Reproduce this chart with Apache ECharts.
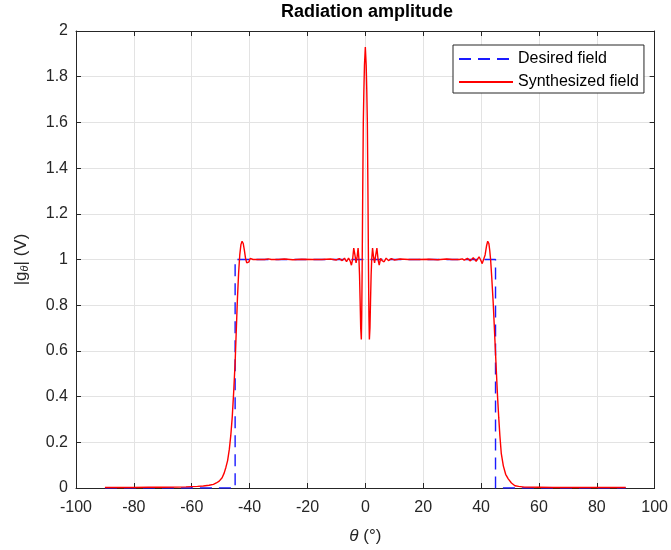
<!DOCTYPE html>
<html>
<head>
<meta charset="utf-8">
<script src="https://cdn.jsdelivr.net/npm/echarts@6/dist/echarts.min.js"></script>
<style>html,body{margin:0;padding:0;background:#fff;}#c{width:671px;height:550px;}</style>
</head>
<body>
<div id="c"></div>
<script>
// ---- data ----
const xTicks = [-100, -80, -60, -40, -20, 0, 20, 40, 60, 80, 100];
const yTicks = [0, 0.2, 0.4, 0.6, 0.8, 1, 1.2, 1.4, 1.6, 1.8, 2];
const yTickLabels = ['0', '0.2', '0.4', '0.6', '0.8', '1', '1.2', '1.4', '1.6', '1.8', '2'];

const seriesNames = ['Desired field', 'Synthesized field'];

const desiredTheta = [-90, -45, -45, 45, 45, 90];
const desiredG     = [0, 0, 1, 1, 0, 0];

const synthTheta = [
  -90, -85, -80, -75, -70, -65, -62, -60, -58, -56, -54, -52.5, -51.5, -50.5, -49.5, -48.8, -48.2, -47.6, -47.0, -46.5,
  -46.0, -45.5, -45.0, -44.6, -44.2, -43.8, -43.4, -43.0, -42.6, -42.2, -41.8, -41.4, -41.0, -40.6, -40.2, -39.8, -39.3,
  -38.8, -38.3, -37.8, -37.3, -36.8, -36.3, -35.8, -35.3, -34.8, -34.2, -33.5, -32.5, -30, -28, -25, -22, -18, -15, -12,
  -10, -9, -8, -7.2, -6.5, -5.8, -5.3, -4.8, -4.4, -4.0, -3.6, -3.2, -2.85, -2.5, -2.2, -2.0, -1.8, -1.6, -1.38, -1.25,
  -1.1, -0.9, -0.7, -0.5, -0.3, 0, 0.3, 0.5, 0.7, 0.9, 1.1, 1.25, 1.4, 1.6, 1.8, 2.0, 2.2, 2.5, 2.85, 3.2, 3.6, 4.0,
  4.4, 4.8, 5.3, 5.8, 6.5, 7.2, 8, 9, 10, 12, 15, 18, 22, 25, 28, 30, 32.5, 33.5, 34.2, 34.8, 35.3, 35.8, 36.3, 36.8,
  37.3, 37.8, 38.3, 38.8, 39.3, 39.8, 40.4, 40.9, 41.4, 41.9, 42.3, 42.7, 43.0, 43.3, 43.7, 44.2, 44.6, 45.0, 45.4,
  45.7, 46.1, 46.5, 47.0, 47.7, 48.5, 49.4, 50.5, 51.7, 53, 55, 60, 65, 70, 80, 90
];
const synthG = [
  0.002, 0.002, 0.002, 0.003, 0.003, 0.004, 0.005, 0.006, 0.007, 0.009, 0.012, 0.016, 0.022, 0.03, 0.045, 0.065, 0.09, 0.12, 0.17, 0.23,
  0.31, 0.42, 0.55, 0.69, 0.83, 0.94, 1.02, 1.065, 1.08, 1.07, 1.04, 1.005, 0.985, 0.98, 0.99, 1.005, 1.01,
  1.0, 0.993, 1.0, 1.007, 1.0, 0.995, 1.0, 1.005, 1.0, 0.997, 1.003, 1.0, 1.0, 1.002, 0.999, 1.001, 1.0, 1.0, 1.002,
  0.998, 1.004, 0.995, 1.006, 0.99, 1.006, 0.995, 0.975, 1.0, 1.05, 1.02, 0.985, 1.01, 1.05, 1.0, 0.93, 0.82, 0.70, 0.65, 0.75,
  0.95, 1.3, 1.6, 1.74, 1.85, 1.93, 1.85, 1.74, 1.6, 1.3, 0.95, 0.75, 0.65, 0.70, 0.82, 0.93, 1.0, 1.05, 1.01, 0.985, 1.02, 1.05,
  1.0, 0.975, 1.005, 0.995, 0.99, 1.006, 0.995, 1.004, 0.998, 1.002, 1.0, 1.0, 1.001, 0.999, 1.002, 1.0, 1.0, 1.003, 0.997, 1.0, 1.005, 1.0, 0.994, 1.0,
  1.008, 1.0, 0.992, 1.0, 1.012, 1.0, 0.982, 0.99, 1.02, 1.06, 1.08, 1.07, 1.04, 1.0, 0.92, 0.81, 0.70, 0.59, 0.48,
  0.40, 0.31, 0.23, 0.15, 0.097, 0.06, 0.04, 0.022, 0.01, 0.007, 0.004, 0.003, 0.002, 0.002, 0.002, 0.002
];
// ---------------------------------------------

const FONT = "'Liberation Sans', Arial, Helvetica, sans-serif";
const AX = '#262626';

const desiredData = desiredTheta.map((t, i) => [t, desiredG[i]]);
const synthData = synthTheta.map((t, i) => [t, synthG[i]]);

const xMin = xTicks[0], xMax = xTicks[xTicks.length - 1], xInt = xTicks[1] - xTicks[0];
const yMin = yTicks[0], yMax = yTicks[yTicks.length - 1], yInt = 0.2;

function yFmt(v) {
  let best = 0, bd = Infinity;
  yTicks.forEach((t, i) => { const d = Math.abs(t - v); if (d < bd) { bd = d; best = i; } });
  return yTickLabels[best];
}

const chart = echarts.init(document.getElementById('c'), null, { renderer: 'canvas' });
chart.setOption({
  animation: false,
  backgroundColor: '#ffffff',
  textStyle: { fontFamily: FONT },
  title: {
    text: 'Radiation amplitude',
    left: 281,
    top: 3,
    padding: 0,
    textStyle: { fontFamily: FONT, fontSize: 18, fontWeight: 'bold', color: '#000' }
  },
  grid: { left: 76, right: 14, top: 31, bottom: 61, containLabel: false },
  legend: {
    orient: 'vertical',
    left: 453,
    top: 45,
    padding: [6, 5, 3, 5],
    itemWidth: 54,
    itemHeight: 14,
    itemGap: 7,
    backgroundColor: '#ffffff',
    borderColor: AX,
    borderWidth: 1,
    borderRadius: 0,
    itemStyle: { opacity: 0 },
    textStyle: { fontFamily: FONT, fontSize: 16, color: '#000' },
    data: seriesNames
  },
  xAxis: [
    {
      type: 'value', min: xMin, max: xMax, interval: xInt,
      name: '{i|θ} (°)',
      nameLocation: 'middle', nameGap: 40,
      nameTextStyle: {
        fontFamily: FONT, fontSize: 17, color: AX,
        rich: { i: { fontFamily: FONT, fontSize: 17, fontStyle: 'italic', color: AX } }
      },
      axisLine: { show: true, onZero: false, lineStyle: { color: AX, width: 1 } },
      axisTick: { show: true, inside: true, length: 5, lineStyle: { color: AX } },
      axisLabel: { fontFamily: FONT, fontSize: 16, color: AX, margin: 12 },
      splitLine: { show: true, lineStyle: { color: '#e3e3e3', width: 1 } }
    },
    {
      type: 'value', min: xMin, max: xMax, interval: xInt, position: 'top',
      axisLine: { show: true, onZero: false, lineStyle: { color: AX, width: 1 } },
      axisTick: { show: true, inside: true, length: 5, lineStyle: { color: AX } },
      axisLabel: { show: false },
      splitLine: { show: false }
    }
  ],
  yAxis: [
    {
      type: 'value', min: yMin, max: yMax, interval: yInt,
      name: '|g{s|θ}| (V)',
      nameLocation: 'middle', nameGap: 46, nameRotate: 90,
      nameTextStyle: {
        fontFamily: FONT, fontSize: 17, color: AX,
        rich: { s: { fontFamily: FONT, fontSize: 11, fontStyle: 'italic', color: AX, verticalAlign: 'bottom', padding: [7, 0, 0, 0] } }
      },
      axisLine: { show: true, onZero: false, lineStyle: { color: AX, width: 1 } },
      axisTick: { show: true, inside: true, length: 5, lineStyle: { color: AX } },
      axisLabel: { fontFamily: FONT, fontSize: 16, color: AX, margin: 8, formatter: yFmt },
      splitLine: { show: true, lineStyle: { color: '#e3e3e3', width: 1 } }
    },
    {
      type: 'value', min: yMin, max: yMax, interval: yInt, position: 'right',
      axisLine: { show: true, onZero: false, lineStyle: { color: AX, width: 1 } },
      axisTick: { show: true, inside: true, length: 5, lineStyle: { color: AX } },
      axisLabel: { show: false },
      splitLine: { show: false }
    }
  ],
  series: [
    {
      name: seriesNames[0], type: 'line', data: desiredData,
      xAxisIndex: 0, yAxisIndex: 0,
      symbol: 'none', smooth: false, clip: true, z: 3,
      lineStyle: { color: '#1a1aff', width: 1.4, type: [12, 7] },
      itemStyle: { color: '#1a1aff' }
    },
    {
      name: seriesNames[1], type: 'line', data: synthData,
      xAxisIndex: 0, yAxisIndex: 0,
      symbol: 'none', smooth: false, clip: true, z: 4,
      lineStyle: { color: '#ff0000', width: 1.4 },
      itemStyle: { color: '#ff0000' }
    }
  ]
});
</script>
</body>
</html>
